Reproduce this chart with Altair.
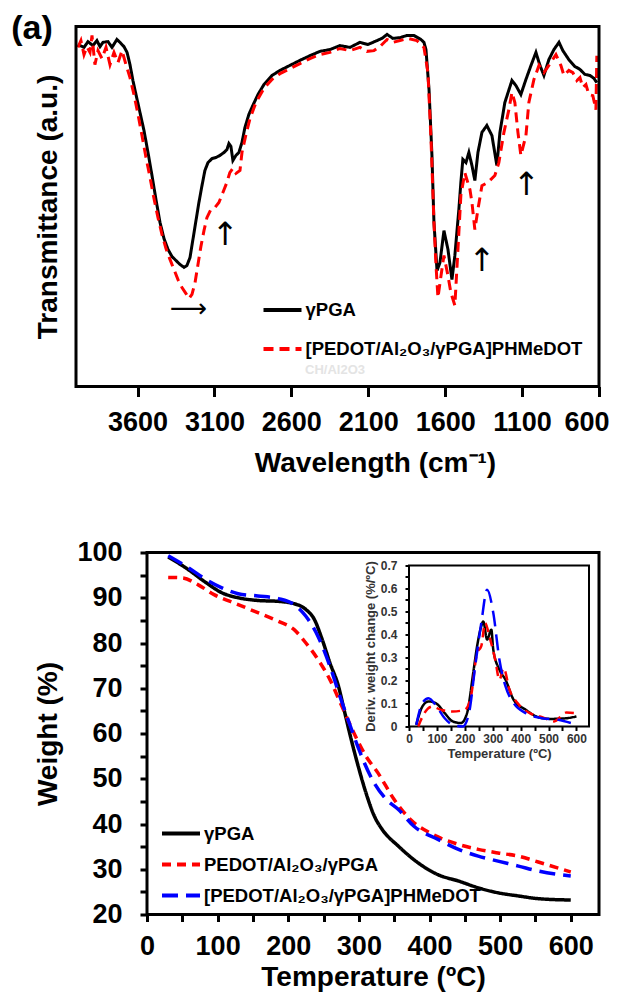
import altair as alt
import pandas as pd

FONT = "Liberation Sans"

# ---------------- (a) FTIR ----------------
ftir_labels = ["γPGA", "[PEDOT/Al₂O₃/γPGA]PHMeDOT"]
ftir_ticks = [3600, 3100, 2600, 2100, 1600, 1100, 600]

ftir_pga_wn = [3987, 3948, 3922, 3890, 3864, 3844, 3825, 3792, 3766, 3734,
               3714, 3688, 3668, 3649, 3630, 3610, 3584, 3558, 3532, 3506,
               3480, 3454, 3428, 3402, 3376, 3350, 3324, 3298, 3279, 3259,
               3240, 3220, 3201, 3181, 3162, 3142, 3116, 3090, 3064, 3038,
               3019, 3006, 2993, 2980, 2960, 2941, 2921, 2902, 2876, 2850,
               2817, 2778, 2726, 2674, 2609, 2544, 2479, 2414, 2349, 2284,
               2219, 2154, 2102, 2043, 2011, 1978, 1940, 1894, 1849, 1803,
               1758, 1738, 1725, 1705, 1686, 1673, 1653, 1634, 1608, 1582,
               1556, 1537, 1511, 1498, 1485, 1465, 1446, 1426, 1407, 1387,
               1361, 1329, 1296, 1264, 1244, 1212, 1166, 1140, 1108, 1075,
               1042, 1010, 984, 958, 926, 893, 860, 835, 796, 757,
               724, 692, 659, 633, 614]
ftir_pga_tr = [95.0, 94.2, 95.8, 94.7, 96.1, 94.4, 95.6, 95.8, 94.2, 96.4,
               95.6, 94.4, 92.8, 89.4, 85.0, 81.1, 76.1, 71.1, 65.0, 58.6,
               51.9, 45.6, 41.1, 38.1, 36.1, 35.0, 33.9, 33.1, 33.6, 35.8,
               40.8, 46.1, 51.1, 55.8, 60.0, 62.2, 63.3, 63.6, 64.2, 65.0,
               65.8, 67.5, 66.7, 62.8, 64.2, 65.0, 67.8, 71.9, 75.6, 78.1,
               81.1, 83.9, 86.4, 87.8, 89.2, 90.6, 91.9, 93.1, 93.6, 94.7,
               94.2, 95.6, 95.0, 96.1, 96.7, 97.8, 96.7, 96.9, 97.5, 97.5,
               96.4, 95.6, 93.6, 82.5, 64.2, 45.6, 32.2, 34.4, 43.3, 38.1,
               29.7, 36.4, 49.2, 56.7, 63.1, 62.2, 65.0, 61.4, 57.2, 65.0,
               70.6, 72.5, 69.7, 61.4, 70.6, 78.9, 85.0, 83.6, 81.1, 85.3,
               89.2, 92.8, 89.2, 86.4, 90.8, 93.6, 95.6, 93.3, 90.8, 88.9,
               88.1, 86.7, 86.4, 85.6, 84.4]

ftir_comp_wn = [3987, 3968, 3948, 3929, 3909, 3896, 3877, 3857, 3831, 3805,
                3779, 3753, 3727, 3701, 3675, 3649, 3623, 3597, 3571, 3545,
                3519, 3493, 3467, 3441, 3415, 3389, 3363, 3337, 3311, 3285,
                3266, 3246, 3226, 3207, 3188, 3168, 3149, 3123, 3097, 3071,
                3045, 3019, 3000, 2980, 2960, 2934, 2921, 2895, 2869, 2830,
                2778, 2726, 2674, 2609, 2544, 2479, 2414, 2349, 2284, 2219,
                2154, 2109, 2063, 2024, 1978, 1940, 1894, 1842, 1784, 1738,
                1712, 1692, 1673, 1660, 1647, 1627, 1608, 1582, 1563, 1537,
                1517, 1498, 1472, 1459, 1439, 1426, 1407, 1387, 1361, 1322,
                1277, 1251, 1218, 1186, 1166, 1147, 1127, 1108, 1075, 1056,
                1023, 990, 958, 926, 880, 848, 828, 796, 770, 744,
                724, 705, 685, 666, 640, 620, 614]
ftir_comp_tr = [94.2, 96.1, 92.2, 94.4, 92.8, 97.5, 89.4, 93.3, 91.1, 94.2,
                89.4, 92.8, 90.0, 93.3, 89.4, 85.8, 81.1, 75.6, 69.7, 63.6,
                58.1, 52.2, 46.9, 42.2, 38.3, 35.3, 32.5, 29.7, 27.5, 25.8,
                24.4, 25.6, 28.9, 33.9, 38.9, 43.3, 46.9, 49.2, 49.7, 51.1,
                53.9, 56.7, 59.4, 60.6, 59.2, 60.0, 65.0, 70.0, 74.4, 78.9,
                82.8, 85.3, 86.9, 88.3, 89.7, 91.1, 92.2, 92.8, 93.9, 93.3,
                94.2, 93.1, 93.3, 94.4, 96.4, 95.6, 96.1, 96.7, 96.1, 94.2,
                87.2, 68.6, 45.6, 33.9, 24.7, 30.8, 36.4, 30.8, 26.1, 22.5,
                38.1, 53.1, 59.4, 57.5, 54.7, 51.1, 43.6, 49.2, 55.8, 56.7,
                58.6, 62.2, 70.6, 76.9, 81.7, 78.9, 70.6, 64.2, 69.7, 78.9,
                85.3, 89.2, 87.2, 89.2, 92.2, 89.2, 86.4, 87.8, 87.2, 85.0,
                85.8, 83.1, 83.9, 81.1, 80.8, 76.9, 91.9]

arrow_h_wn = [3270]
arrow_h_tr = [21.4]
arrow_v_wn = [3031, 1361, 1072]
arrow_v_tr = [42.2, 35.0, 56.1]

# ---------------- TGA ----------------
tga_labels = ["γPGA", "PEDOT/Al₂O₃/γPGA", "[PEDOT/Al₂O₃/γPGA]PHMeDOT"]
tga_pga_T = [30, 55, 84, 106, 129, 157, 186, 208, 225, 237, 248, 259, 271, 279,
             288, 299, 310, 322, 333, 356, 384, 412, 441, 469, 497, 526, 554, 600]
tga_pga_W = [99.0, 96.6, 93.3, 91.1, 90.0, 89.4, 89.2, 88.7, 87.4, 85.2, 80.8, 75.6,
             70.5, 65.3, 59.4, 52.8, 46.9, 41.7, 38.8, 35.1, 31.4, 28.8, 27.4, 25.9,
             24.8, 24.1, 23.5, 23.2]
tga_pedot_T = [30, 50, 72, 95, 129, 157, 186, 208, 225, 242, 259, 276, 293, 310,
               327, 350, 373, 401, 441, 469, 497, 526, 554, 600]
tga_pedot_W = [94.5, 94.4, 92.9, 90.7, 88.5, 86.7, 84.8, 83.0, 80.0, 76.4, 71.9, 66.0,
               60.1, 55.0, 51.3, 45.4, 41.0, 38.0, 35.5, 34.4, 33.6, 32.9, 31.6, 29.4]
tga_comp_T = [30, 55, 84, 106, 129, 157, 186, 208, 225, 242, 259, 273, 288, 302,
              319, 339, 356, 378, 412, 441, 469, 497, 526, 554, 600]
tga_comp_W = [99.3, 97.0, 94.0, 92.2, 90.9, 90.4, 89.8, 88.5, 85.9, 81.5, 74.9, 68.3,
              61.6, 55.7, 49.8, 45.4, 43.2, 39.5, 36.6, 34.4, 32.9, 31.8, 30.7, 29.6, 28.5]

# inset: derivative weight change
dtg_pga_T = [26, 48, 70, 99, 128, 157, 186, 208, 230, 244, 259, 266, 280, 295, 302,
             324, 346, 375, 418, 462, 506, 564, 600]
dtg_pga_D = [0.007, 0.087, 0.109, 0.099, 0.058, 0.022, 0.015, 0.058, 0.232, 0.349,
             0.436, 0.457, 0.378, 0.421, 0.334, 0.247, 0.203, 0.116, 0.073, 0.041,
             0.033, 0.036, 0.044]
dtg_pedot_T = [33, 55, 84, 113, 157, 200, 222, 244, 259, 273, 288, 309, 324, 339, 360,
               389, 433, 477, 520, 564, 600]
dtg_pedot_D = [0.0, 0.058, 0.087, 0.073, 0.065, 0.073, 0.131, 0.32, 0.349, 0.45, 0.392,
               0.29, 0.203, 0.254, 0.16, 0.102, 0.058, 0.041, 0.022, 0.061, 0.058]
dtg_comp_T = [26, 48, 70, 99, 128, 157, 193, 215, 237, 259, 280, 302, 324, 346, 375,
              418, 477, 535, 580]
dtg_comp_D = [0.007, 0.102, 0.123, 0.087, 0.036, 0.007, 0.0, 0.058, 0.261, 0.45, 0.595,
              0.494, 0.29, 0.174, 0.102, 0.058, 0.036, 0.029, 0.015]

tga_xticks = [0, 50, 100, 150, 200, 250, 300, 350, 400, 450, 500, 550, 600]
tga_yticks = [20, 25, 30, 35, 40, 45, 50, 55, 60, 65, 70, 75, 80, 85, 90, 95, 100]
dtg_yticks = [0, 0.05, 0.1, 0.15, 0.2, 0.25, 0.3, 0.35, 0.4, 0.45, 0.5, 0.55, 0.6, 0.65, 0.7]

# ---------------- tables ----------------
ftir_df = pd.DataFrame({
    "w": ftir_pga_wn + ftir_comp_wn,
    "v": ftir_pga_tr + ftir_comp_tr,
    "s": [ftir_labels[0]] * len(ftir_pga_wn) + [ftir_labels[1]] * len(ftir_comp_wn),
})
arrow_h_df = pd.DataFrame({"w": arrow_h_wn, "v": arrow_h_tr, "g": ["⟶"]})
arrow_v_df = pd.DataFrame({"w": arrow_v_wn, "v": arrow_v_tr, "g": ["↑"] * 3})
label_a_df = pd.DataFrame({"w": [4000], "v": [100], "g": ["(a)"]})
ghost_df = pd.DataFrame({"w": [2316], "v": [4.7], "g": ["CH/Al2O3"]})
frame_top_df = pd.DataFrame({"w": [4000], "w2": [600], "v": [0], "v2": [100]})

tga_df = pd.DataFrame({
    "T": tga_pga_T + tga_pedot_T + tga_comp_T,
    "W": tga_pga_W + tga_pedot_W + tga_comp_W,
    "series": [tga_labels[0]] * len(tga_pga_T) + [tga_labels[1]] * len(tga_pedot_T)
              + [tga_labels[2]] * len(tga_comp_T),
})
dtg_df = pd.DataFrame({
    "Ti": dtg_pga_T + dtg_pedot_T + dtg_comp_T,
    "D": dtg_pga_D + dtg_pedot_D + dtg_comp_D,
    "series": [tga_labels[0]] * len(dtg_pga_T) + [tga_labels[1]] * len(dtg_pedot_T)
              + [tga_labels[2]] * len(dtg_comp_T),
})
frame_main_df = pd.DataFrame({"T": [0], "T2": [640], "W": [20], "W2": [100]})
frame_in_df = pd.DataFrame({"Ti": [0], "Ti2": [645], "D": [0], "D2": [0.7]})

# ---------------- top panel ----------------
x_top = alt.X("w:Q", scale=alt.Scale(domain=[4000, 600], nice=False, zero=False),
              axis=alt.Axis(values=ftir_ticks, format="d", title="Wavelength (cm⁻¹)",
                            domain=False, tickSize=10, tickWidth=3, labelPadding=13,
                            labelFontSize=27, labelFontWeight="bold", labelFlush=True,
                            labelFlushOffset=10, labelOverlap=False, titleFontSize=28,
                            titleFontWeight="bold", titlePadding=14, titleX=299))
y_top = alt.Y("v:Q", scale=alt.Scale(domain=[0, 100], nice=False, zero=False),
              axis=alt.Axis(title="Transmittance (a.u.)", labels=False, ticks=False,
                            domain=False, minExtent=0, titleFontSize=28,
                            titleFontWeight="bold", titlePadding=14))

leg_top = alt.Legend(orient="none", legendX=185.5, legendY=262.5, title=None,
                     symbolType="stroke", symbolSize=1444, symbolStrokeWidth=4,
                     labelFont=FONT, labelFontSize=18.5, labelFontWeight="bold",
                     labelColor="black", labelOffset=2, labelLimit=500,
                     rowPadding=8, padding=0)

lines_top = alt.Chart(ftir_df).mark_line(strokeWidth=3).encode(
    x=x_top, y=y_top,
    color=alt.Color("s:N", scale=alt.Scale(domain=ftir_labels, range=["black", "#ff0000"]),
                    legend=leg_top),
    strokeDash=alt.StrokeDash("s:N", scale=alt.Scale(domain=ftir_labels,
                                                      range=[[1, 0], [10, 6]]),
                              legend=leg_top),
)
arrows_h = alt.Chart(arrow_h_df).mark_text(font="DejaVu Sans", fontSize=26,
                                            color="black").encode(x=x_top, y=y_top, text="g:N")
arrows_v = alt.Chart(arrow_v_df).mark_text(font="DejaVu Sans", fontSize=32,
                                            color="black").encode(x=x_top, y=y_top, text="g:N")
ghost = alt.Chart(ghost_df).mark_text(font=FONT, fontSize=13, fontWeight="bold",
                                      color="#e4e4e4").encode(x=x_top, y=y_top, text="g:N")
label_a = alt.Chart(label_a_df).mark_text(font=FONT, fontSize=34, fontWeight="bold",
                                          color="black", dx=-44, dy=2, align="center",
                                          baseline="middle").encode(x=x_top, y=y_top, text="g:N")
frame_top = alt.Chart(frame_top_df).mark_rect(fillOpacity=0, stroke="black",
                                              strokeWidth=3).encode(
    x=x_top, x2="w2:Q", y=y_top, y2="v2:Q")

top = alt.layer(lines_top, arrows_h, arrows_v, ghost, label_a, frame_top).properties(
    width=523, height=360)

# ---------------- bottom panel ----------------
x_main = alt.X("T:Q", scale=alt.Scale(domain=[0, 640], range=[71, 523], nice=False, zero=False),
               axis=alt.Axis(orient="bottom", values=tga_xticks, format="d",
                             labelExpr="datum.value % 100 === 0 ? datum.label : ''",
                             title="Temperature (ºC)", domain=False, tickSize=7, tickWidth=3,
                             labelPadding=12, labelFontSize=27, labelFontWeight="bold",
                             labelFlush=False, labelOverlap=False, titleFontSize=28,
                             titleFontWeight="bold", titlePadding=4))
y_main = alt.Y("W:Q", scale=alt.Scale(domain=[20, 100], nice=False, zero=False),
               axis=alt.Axis(orient="left", offset=-71, values=tga_yticks, format="d",
                             labelExpr="datum.value % 10 === 0 ? datum.label : ''",
                             title="Weight (%)", domain=False, tickSize=7, tickWidth=3,
                             labelPadding=18, labelFontSize=27, labelFontWeight="bold",
                             labelFlush=False, labelOverlap=False, titleFontSize=28,
                             titleFontWeight="bold", titlePadding=14))
x_in = alt.X("Ti:Q", scale=alt.Scale(domain=[0, 645], range=[333, 513], nice=False, zero=False),
             axis=alt.Axis(orient="bottom", offset=-188, values=tga_xticks, format="d",
                           labelExpr="datum.value % 100 === 0 ? datum.label : ''",
                           title="Temperature (ºC)", domain=False, tickSize=4, tickWidth=2,
                           labelPadding=3, labelFontSize=12, labelFontWeight="bold",
                           labelColor="#333333", labelFlush=False, labelOverlap=False,
                           titleFontSize=13, titleFontWeight="bold", titleColor="#333333",
                           titlePadding=3))
y_in = alt.Y("D:Q", scale=alt.Scale(domain=[0, 0.7], range=[174, 13], nice=False, zero=False),
             axis=alt.Axis(orient="left", offset=-333, values=dtg_yticks, format=".1~f",
                           labelExpr="round(datum.value * 100) % 10 === 0 ? datum.label : ''",
                           title="Deriv. weight change (%/ºC)", domain=False, tickSize=4,
                           tickWidth=2, labelPadding=8, labelFontSize=12,
                           labelFontWeight="bold", labelColor="#333333", labelFlush=False,
                           labelOverlap=False, titleFontSize=13, titleFontWeight="bold",
                           titleColor="#333333", titlePadding=3))

leg_bot = alt.Legend(orient="none", legendX=84, legendY=260, title=None,
                     symbolType="stroke", symbolSize=1444, symbolStrokeWidth=4,
                     labelFont=FONT, labelFontSize=18.5, labelFontWeight="bold",
                     labelColor="black", labelOffset=2, labelLimit=500,
                     rowPadding=0, padding=0)
col_bot = alt.Color("series:N", scale=alt.Scale(domain=tga_labels,
                                                range=["black", "#ff0000", "#0000ff"]),
                    legend=leg_bot)
dash_bot = alt.StrokeDash("series:N", scale=alt.Scale(domain=tga_labels,
                                                       range=[[1, 0], [9, 6], [16, 8]]),
                          legend=leg_bot)

main_lines = alt.Chart(tga_df).mark_line(strokeWidth=3.5, interpolate="monotone").encode(
    x=x_main, y=y_main, color=col_bot, strokeDash=dash_bot)
main_frame = alt.Chart(frame_main_df).mark_rect(fillOpacity=0, stroke="black",
                                                strokeWidth=3).encode(
    x=x_main, x2="T2:Q", y=y_main, y2="W2:Q")
in_lines = alt.Chart(dtg_df).mark_line(strokeWidth=2.5, interpolate="monotone").encode(
    x=x_in, y=y_in, color=col_bot, strokeDash=dash_bot)
in_frame = alt.Chart(frame_in_df).mark_rect(fill="white", stroke="black",
                                            strokeWidth=2).encode(
    x=x_in, x2="Ti2:Q", y=y_in, y2="D2:Q")

bottom = alt.layer(
    alt.layer(main_lines, main_frame),
    alt.layer(in_frame, in_lines),
).resolve_scale(x="independent", y="independent").properties(width=523, height=362)

chart = alt.vconcat(top, bottom, spacing=61).resolve_scale(
    color="independent", strokeDash="independent"
).resolve_legend(color="independent", strokeDash="independent").properties(
    padding={"left": 3, "top": 3.5, "right": 0, "bottom": 0}
).configure_view(strokeWidth=0).configure_axis(
    grid=False, labelFont=FONT, titleFont=FONT, labelColor="black", titleColor="black",
    tickColor="black"
)

chart.save("out.html", embed_options={"renderer": "svg", "actions": False})
